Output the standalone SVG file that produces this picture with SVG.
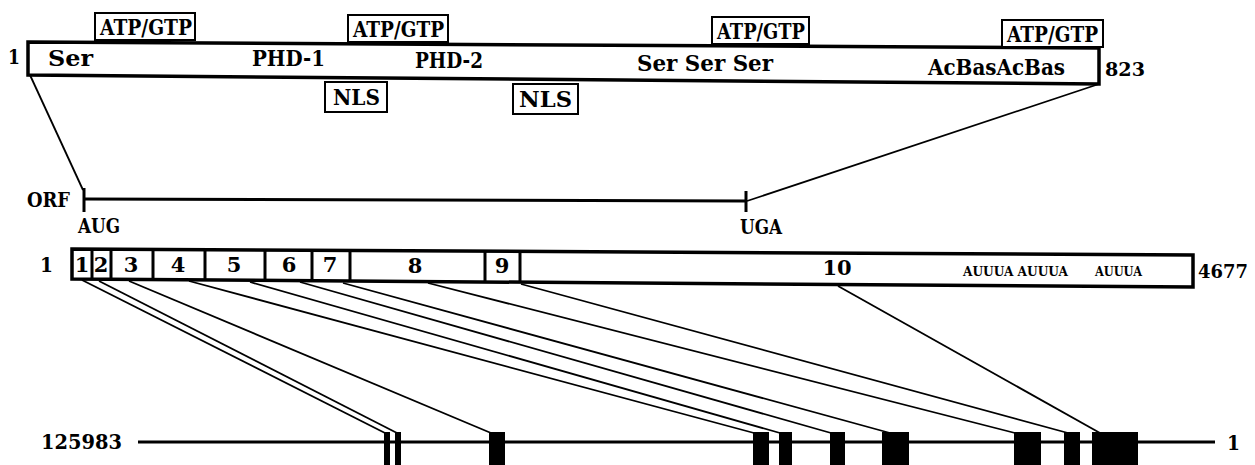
<svg xmlns="http://www.w3.org/2000/svg" width="1255" height="465" viewBox="0 0 1255 465">
<style>
.t{font-family:"DejaVu Serif","Liberation Serif",serif;font-weight:bold;fill:#000}
.bx{fill:#fff;stroke:#000;stroke-width:2}
.bar{fill:#fff;stroke:#000;stroke-width:3.5}
.ln{stroke:#000;stroke-width:1.8;fill:none}
.thk{stroke:#000;stroke-width:3;fill:none}
.ex{fill:#000}
</style>
<rect width="1255" height="465" fill="#fff"/>
<g id="protein">
<polygon class="bar" points="28,42 1099,48 1099,84 28,75"/>
<text class="t" x="8" y="64" font-size="21" textLength="12" lengthAdjust="spacingAndGlyphs">1</text>
<text class="t" x="48" y="66" font-size="22" textLength="45" lengthAdjust="spacingAndGlyphs">Ser</text>
<text class="t" x="252" y="66" font-size="22" textLength="73" lengthAdjust="spacingAndGlyphs">PHD-1</text>
<text class="t" x="415" y="68" font-size="22" textLength="68" lengthAdjust="spacingAndGlyphs">PHD-2</text>
<text class="t" x="637" y="71" font-size="22" textLength="136" lengthAdjust="spacingAndGlyphs">Ser Ser Ser</text>
<text class="t" x="928" y="75" font-size="22" textLength="137" lengthAdjust="spacingAndGlyphs">AcBasAcBas</text>
<text class="t" x="1105" y="76" font-size="19" textLength="40" lengthAdjust="spacingAndGlyphs">823</text>
</g>
<g id="atp1"><rect class="bx" x="95" y="13" width="100" height="27"/><text class="t" x="100" y="35" font-size="23" textLength="92" lengthAdjust="spacingAndGlyphs">ATP/GTP</text></g>
<g id="atp2"><rect class="bx" x="348" y="15" width="100" height="27"/><text class="t" x="353" y="37" font-size="23" textLength="91" lengthAdjust="spacingAndGlyphs">ATP/GTP</text></g>
<g id="atp3"><rect class="bx" x="712" y="17" width="97" height="27"/><text class="t" x="717" y="39" font-size="23" textLength="88" lengthAdjust="spacingAndGlyphs">ATP/GTP</text></g>
<g id="atp4"><rect class="bx" x="1002" y="20" width="101" height="27"/><text class="t" x="1007" y="42" font-size="23" textLength="91" lengthAdjust="spacingAndGlyphs">ATP/GTP</text></g>
<g id="nls1"><rect class="bx" x="325" y="82" width="62" height="30"/><text class="t" x="333" y="105" font-size="22" textLength="47" lengthAdjust="spacingAndGlyphs">NLS</text></g>
<g id="nls2"><rect class="bx" x="513" y="84" width="65" height="30"/><text class="t" x="519" y="107" font-size="22" textLength="53" lengthAdjust="spacingAndGlyphs">NLS</text></g>
<g id="orf">
<text class="t" x="27" y="207" font-size="21" textLength="43" lengthAdjust="spacingAndGlyphs">ORF</text>
<line class="thk" x1="84" y1="199" x2="746" y2="201"/>
<line class="thk" x1="84" y1="188" x2="84" y2="212"/>
<line class="thk" x1="746" y1="191" x2="746" y2="212"/>
<text class="t" x="78" y="233" font-size="20" textLength="42" lengthAdjust="spacingAndGlyphs">AUG</text>
<text class="t" x="740" y="234" font-size="20" textLength="42" lengthAdjust="spacingAndGlyphs">UGA</text>
</g>
<g id="mrna">
<text class="t" x="40" y="272" font-size="21" textLength="13" lengthAdjust="spacingAndGlyphs">1</text>
<polygon class="bar" points="72,249 1193,255 1193,287 72,279"/>
<path class="thk" d="M92,249V279 M111,249V279 M153,249.5V279.5 M205,250V280 M265,250V280.5 M312,250V281 M350,250.5V281 M485,251V282 M520,251.5V282.5"/>
<text class="t" font-size="21" text-anchor="middle" y="272"><tspan x="82">1</tspan><tspan x="101">2</tspan><tspan x="131">3</tspan><tspan x="178">4</tspan><tspan x="234">5</tspan><tspan x="289">6</tspan><tspan x="330">7</tspan></text>
<text class="t" font-size="21" text-anchor="middle" y="273"><tspan x="415">8</tspan><tspan x="502">9</tspan></text>
<text class="t" font-size="21" text-anchor="middle" x="837" y="275">10</text>
<text class="t" x="963" y="276" font-size="12" textLength="105" lengthAdjust="spacingAndGlyphs">AUUUA AUUUA</text>
<text class="t" x="1095" y="276" font-size="12" textLength="47" lengthAdjust="spacingAndGlyphs">AUUUA</text>
<text class="t" x="1198" y="278" font-size="19" textLength="50" lengthAdjust="spacingAndGlyphs">4677</text>
</g>
<g id="genomic">
<text class="t" x="41" y="449" font-size="20" textLength="81" lengthAdjust="spacingAndGlyphs">125983</text>
<line class="thk" x1="138" y1="442" x2="1215" y2="442"/>
<text class="t" x="1227" y="450" font-size="20" textLength="13" lengthAdjust="spacingAndGlyphs">1</text>
<rect class="ex" x="384" y="432" width="6" height="33"/>
<rect class="ex" x="395" y="432" width="6" height="33"/>
<rect class="ex" x="489" y="432" width="16" height="33"/>
<rect class="ex" x="753" y="432" width="16" height="33"/>
<rect class="ex" x="779" y="432" width="13" height="33"/>
<rect class="ex" x="830" y="432" width="15" height="33"/>
<rect class="ex" x="882" y="432" width="27" height="33"/>
<rect class="ex" x="1014" y="432" width="27" height="33"/>
<rect class="ex" x="1064" y="432" width="16" height="33"/>
<rect class="ex" x="1092" y="432" width="46" height="33"/>
</g>
<g id="connectors">
<line class="ln" x1="30" y1="75" x2="83" y2="190"/>
<line class="ln" x1="1099" y1="84" x2="747" y2="201"/>
<line class="ln" x1="82" y1="280" x2="385" y2="433"/>
<line class="ln" x1="99" y1="281" x2="397" y2="433"/>
<line class="ln" x1="129" y1="281" x2="491" y2="433"/>
<line class="ln" x1="189" y1="281" x2="754" y2="433"/>
<line class="ln" x1="250" y1="282" x2="780" y2="433"/>
<line class="ln" x1="300" y1="282" x2="831" y2="433"/>
<line class="ln" x1="343" y1="283" x2="890" y2="433"/>
<line class="ln" x1="428" y1="283" x2="1015" y2="433"/>
<line class="ln" x1="521" y1="284" x2="1068" y2="433"/>
<line class="ln" x1="838" y1="286" x2="1100" y2="433"/>
</g>
</svg>
